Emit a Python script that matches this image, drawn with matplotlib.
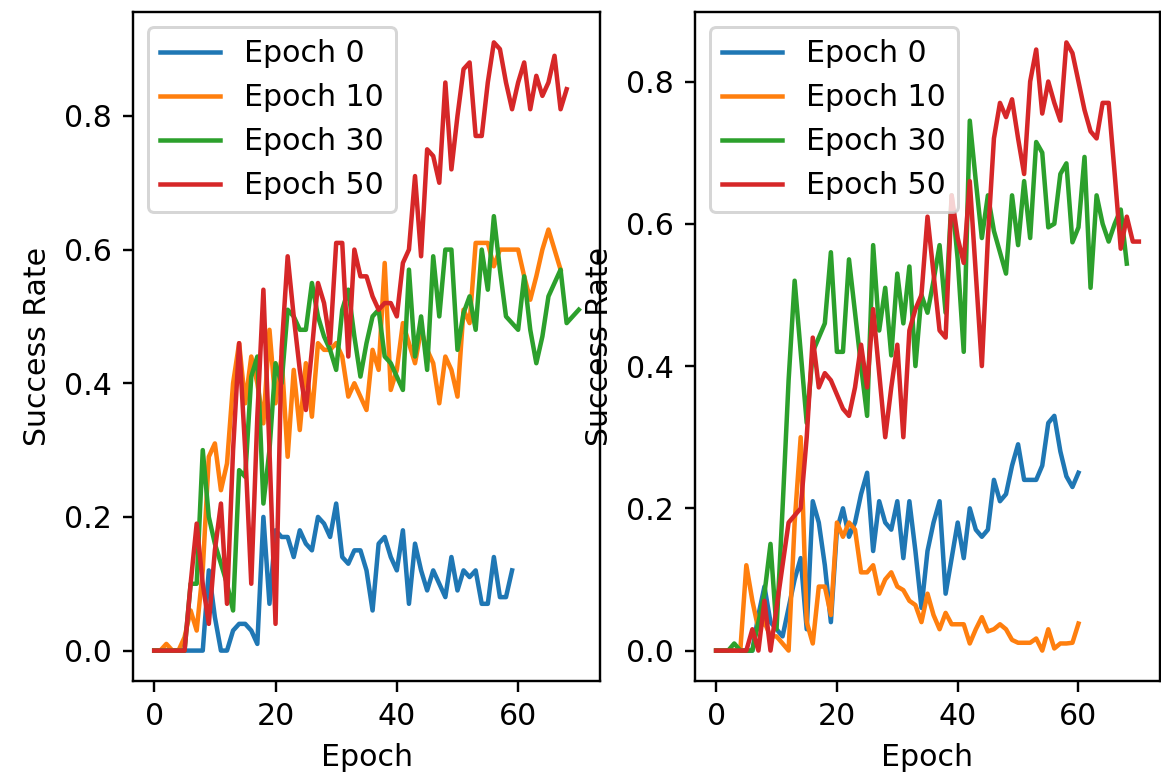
import matplotlib
matplotlib.use("Agg")
import matplotlib.pyplot as plt

# success rate per evaluation epoch, one list per checkpoint
labels = ["Epoch 0", "Epoch 10", "Epoch 30", "Epoch 50"]

left_e0 = [0, 0, 0, 0, 0, 0, 0, 0, 0, 0.12, 0.05, 0.0, 0.0, 0.03, 0.04, 0.04, 0.03, 0.01,
           0.20, 0.07, 0.18, 0.17, 0.17, 0.14, 0.18, 0.16, 0.15, 0.20, 0.19, 0.17, 0.22,
           0.14, 0.13, 0.15, 0.15, 0.12, 0.06, 0.16, 0.17, 0.14, 0.12, 0.18, 0.07, 0.16,
           0.12, 0.09, 0.12, 0.10, 0.08, 0.14, 0.09, 0.12, 0.11, 0.12, 0.07, 0.07, 0.14,
           0.08, 0.08, 0.12]
left_e10 = [0, 0, 0.01, 0, 0, 0.02, 0.06, 0.03, 0.12, 0.29, 0.31, 0.24, 0.28, 0.40, 0.46,
            0.37, 0.44, 0.40, 0.34, 0.48, 0.37, 0.44, 0.29, 0.42, 0.33, 0.43, 0.35, 0.46,
            0.45, 0.45, 0.46, 0.44, 0.38, 0.40, 0.38, 0.36, 0.45, 0.42, 0.58, 0.39, 0.42,
            0.49, 0.46, 0.43, 0.48, 0.45, 0.43, 0.37, 0.44, 0.42, 0.38, 0.51, 0.49, 0.61,
            0.61, 0.61, 0.575, 0.60, 0.60, 0.60, 0.60, 0.56, 0.525, 0.56, 0.60, 0.63, 0.60,
            0.57]
left_e30 = [0, 0, 0, 0, 0, 0.0, 0.10, 0.10, 0.30, 0.20, 0.16, 0.13, 0.10, 0.06, 0.27, 0.26,
            0.41, 0.44, 0.22, 0.30, 0.43, 0.40, 0.51, 0.50, 0.48, 0.48, 0.55, 0.50, 0.47,
            0.45, 0.42, 0.51, 0.54, 0.47, 0.41, 0.46, 0.50, 0.51, 0.44, 0.43, 0.41, 0.39,
            0.57, 0.44, 0.50, 0.42, 0.59, 0.50, 0.60, 0.60, 0.45, 0.505, 0.53, 0.48, 0.60,
            0.54, 0.65, 0.57, 0.50, 0.49, 0.48, 0.56, 0.48, 0.43, 0.47, 0.53, 0.55, 0.57,
            0.49, 0.50, 0.51]
left_e50 = [0, 0, 0, 0, 0, 0.0, 0.10, 0.19, 0.10, 0.04, 0.15, 0.22, 0.07, 0.30, 0.46, 0.30,
            0.10, 0.35, 0.54, 0.30, 0.04, 0.45, 0.59, 0.50, 0.42, 0.36, 0.45, 0.55, 0.52,
            0.46, 0.61, 0.61, 0.44, 0.60, 0.56, 0.56, 0.53, 0.51, 0.52, 0.52, 0.50, 0.58,
            0.60, 0.71, 0.59, 0.75, 0.74, 0.70, 0.85, 0.72, 0.80, 0.87, 0.88, 0.77, 0.77,
            0.85, 0.91, 0.90, 0.85, 0.81, 0.85, 0.88, 0.81, 0.86, 0.83, 0.85, 0.89, 0.81,
            0.84]

right_e0 = [0, 0, 0, 0, 0, 0, 0, 0.05, 0.09, 0.04, 0.03, 0.02, 0.06, 0.10, 0.13, 0.03,
            0.21, 0.18, 0.12, 0.04, 0.17, 0.20, 0.16, 0.18, 0.22, 0.25, 0.14, 0.21, 0.18,
            0.17, 0.21, 0.13, 0.21, 0.14, 0.06, 0.14, 0.18, 0.21, 0.08, 0.13, 0.18, 0.13,
            0.20, 0.17, 0.16, 0.17, 0.24, 0.21, 0.22, 0.26, 0.29, 0.24, 0.24, 0.24, 0.26,
            0.32, 0.33, 0.28, 0.245, 0.23, 0.25]
right_e10 = [0, 0, 0, 0, 0, 0.12, 0.07, 0.03, 0.04, 0.02, 0.02, 0.01, 0.0, 0.18, 0.30, 0.04,
             0.01, 0.09, 0.09, 0.05, 0.18, 0.16, 0.18, 0.17, 0.11, 0.11, 0.12, 0.08, 0.10,
             0.11, 0.09, 0.085, 0.07, 0.064, 0.04, 0.08, 0.05, 0.03, 0.053, 0.037, 0.037,
             0.037, 0.01, 0.03, 0.047, 0.027, 0.03, 0.037, 0.03, 0.015, 0.011, 0.011, 0.011,
             0.017, 0.0, 0.03, 0.003, 0.01, 0.01, 0.011, 0.038]
right_e30 = [0, 0, 0, 0.01, 0, 0, 0.0, 0.04, 0.08, 0.15, 0.03, 0.20, 0.38, 0.52, 0.42, 0.32,
             0.42, 0.44, 0.46, 0.56, 0.42, 0.42, 0.55, 0.475, 0.40, 0.33, 0.57, 0.45, 0.51,
             0.415, 0.53, 0.46, 0.54, 0.40, 0.50, 0.475, 0.52, 0.57, 0.475, 0.64, 0.55, 0.42,
             0.745, 0.66, 0.58, 0.64, 0.59, 0.56, 0.53, 0.64, 0.57, 0.66, 0.58, 0.715, 0.70,
             0.595, 0.60, 0.67, 0.685, 0.574, 0.595, 0.694, 0.51, 0.64, 0.60, 0.575, 0.60,
             0.62, 0.544]
right_e50 = [0, 0, 0, 0, 0, 0, 0.03, 0.0, 0.07, 0.0, 0.06, 0.12, 0.18, 0.19, 0.20, 0.30, 0.44,
             0.37, 0.39, 0.38, 0.36, 0.34, 0.33, 0.37, 0.43, 0.37, 0.48, 0.39, 0.30, 0.37,
             0.43, 0.30, 0.45, 0.48, 0.50, 0.61, 0.53, 0.45, 0.44, 0.64, 0.58, 0.545, 0.66,
             0.53, 0.40, 0.58, 0.72, 0.77, 0.75, 0.775, 0.72, 0.67, 0.80, 0.845, 0.755, 0.80,
             0.77, 0.745, 0.855, 0.84, 0.80, 0.76, 0.73, 0.72, 0.77, 0.77, 0.67, 0.565, 0.61,
             0.575, 0.575]

left_runs = [left_e0, left_e10, left_e30, left_e50]
right_runs = [right_e0, right_e10, right_e30, right_e50]

fig = plt.figure(figsize=(1161 / 216, 782 / 216), dpi=216)
ax1 = fig.add_axes([133 / 1161, 101 / 782, 467 / 1161, 669 / 782])
ax2 = fig.add_axes([695 / 1161, 101 / 782, 465 / 1161, 669 / 782])

for ax, runs in [(ax1, left_runs), (ax2, right_runs)]:
    for run, label in zip(runs, labels):
        ax.plot(range(len(run)), run, label=label)
    ax.set_xlabel("Epoch")
    ax.set_ylabel("Success Rate")
    ax.legend(loc="upper left")

fig.savefig("out.png", dpi=216)
